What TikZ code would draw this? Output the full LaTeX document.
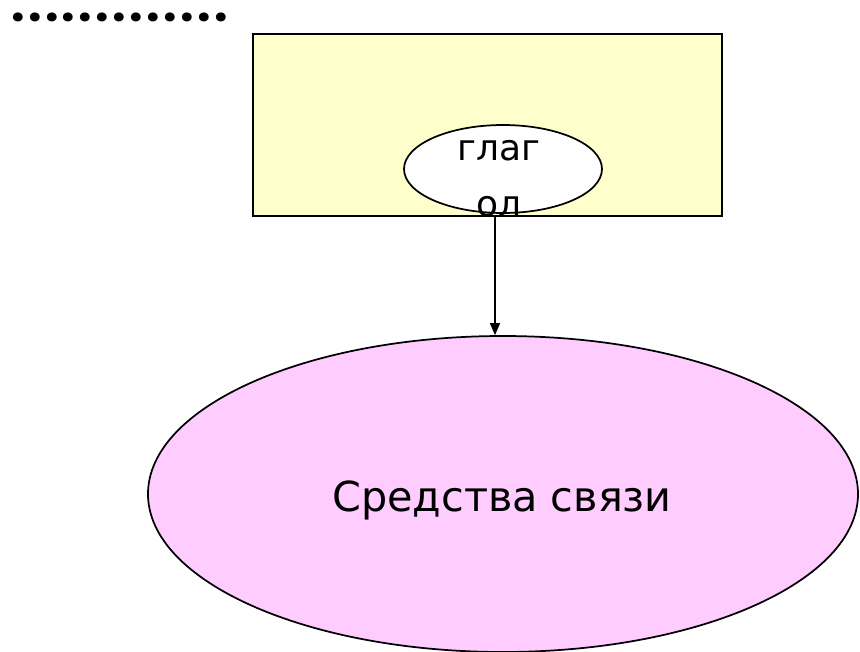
\documentclass[tikz,border=0pt]{standalone}
\usepackage{fontspec}
\setmainfont{DejaVu Sans}
\newfontfamily\tochkifont[LetterSpace=7]{Poppins}
\usetikzlibrary{shapes.geometric,arrows.meta}

\definecolor{zhyoltyj}{RGB}{255,255,204}
\definecolor{rozovyj}{RGB}{255,204,255}

\tikzset{
    ramka/.style={draw, line width=1.5pt, fill=zhyoltyj},
    oval/.style={ellipse, draw, line width=1.3pt, inner sep=0pt},
    strelka/.style={-{Triangle[length=9pt,width=7.5pt]}, line width=0.9pt}
}

\begin{document}
\begin{tikzpicture}[x=0.75pt, y=-0.75pt]
    % поле рисунка (в пикселях)
    \useasboundingbox (0,0) rectangle (860,651);

    % строка точек
    \node[anchor=base west, inner sep=0pt, text height=8pt, font=\tochkifont\fontsize{36}{40}\selectfont\bfseries] (tochki) at (11,21.5) {.............};

    % жёлтый прямоугольник
    \node[ramka, minimum width=351.75pt, minimum height=136.5pt] (pole) at (487.5,125) {};

    % маленький овал и подпись
    \node[oval, fill=white, minimum width=148.5pt, minimum height=66pt] (glagol) at (503,169) {};
    \node[align=center, inner sep=0pt, font=\fontsize{27}{42}\selectfont] (glagoltekst) at (499,179) {глаг\\ол};

    % большой овал
    \node[oval, fill=rozovyj, minimum width=532.5pt, minimum height=237pt] (svyaz) at (503,494) {};
    \node[inner sep=0pt, font=\fontsize{31}{36}\selectfont] (svyaztekst) at (502,500) {Средства связи};

    % стрелка вниз
    \coordinate (nachalo) at (495,216);
    \draw[strelka] (nachalo) -- (nachalo |- svyaz.north);
\end{tikzpicture}
\end{document}
